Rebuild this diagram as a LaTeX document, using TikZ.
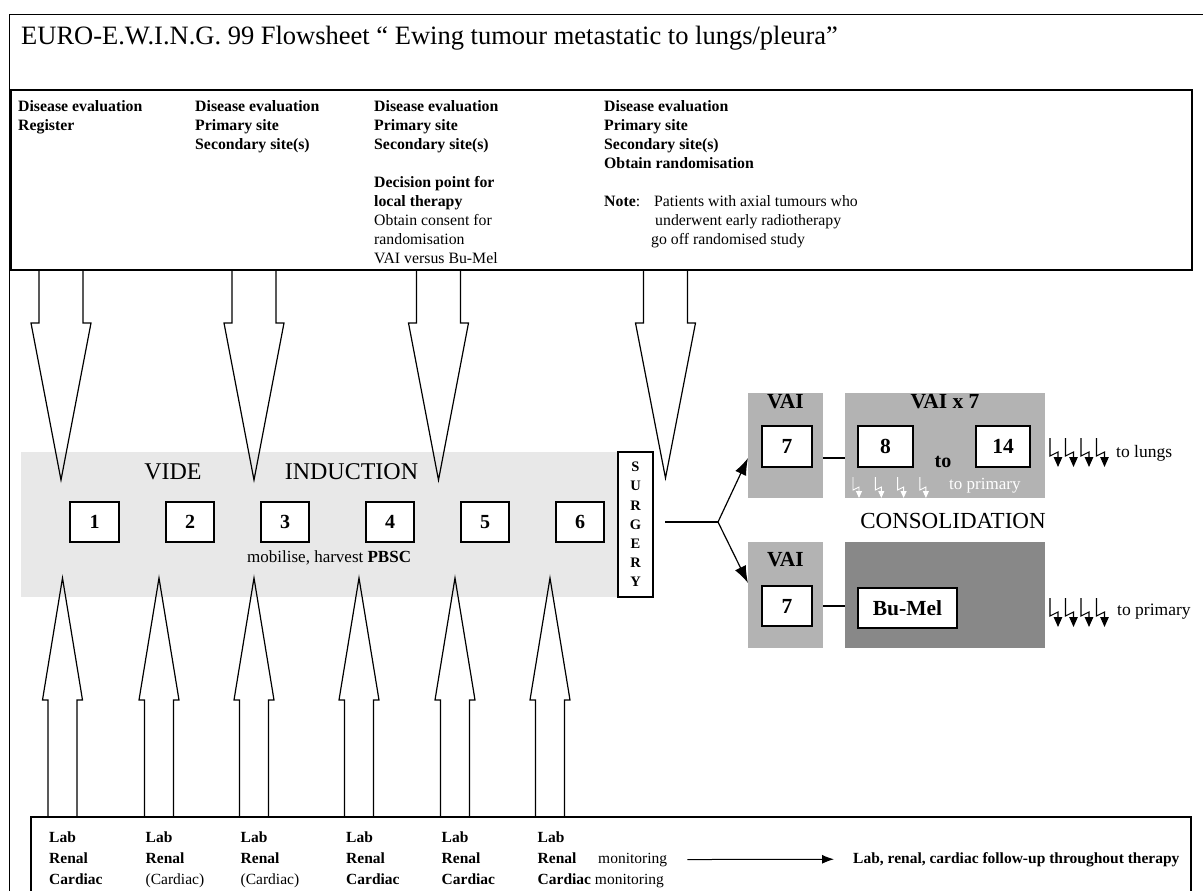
\documentclass[tikz,border=0pt]{standalone}
\usepackage{fontspec}
\setmainfont{Liberation Serif}
\usetikzlibrary{arrows.meta}
\definecolor{bandgray}{HTML}{E8E8E8}
\definecolor{cgrayA}{HTML}{B3B3B3}
\definecolor{cgrayB}{HTML}{888888}
\tikzset{
  outerline/.style={line width=0.8pt},
  thickbox/.style={line width=2pt},
  numbox/.style={draw, line width=1.8pt, fill=white, inner sep=0pt, minimum height=40pt, font=\fontsize{20}{24}\selectfont\bfseries},
  consbox/.style={draw, line width=1.8pt, fill=white, inner sep=0pt, font=\fontsize{21.5}{24}\selectfont\bfseries},
  blockarrow/.style={line width=1.2pt, line join=miter},
  coltext/.style={anchor=base west, inner sep=0pt, align=left, font=\fontsize{15.8}{19}\selectfont},
  bottext/.style={anchor=base west, inner sep=0pt, align=left, font=\fontsize{15.5}{21}\selectfont},
  bigbold/.style={inner sep=0pt, font=\fontsize{21.5}{24}\selectfont\bfseries},
  phase/.style={inner sep=0pt, font=\fontsize{24}{28}\selectfont},
  sidelabel/.style={anchor=west, inner sep=0pt, font=\fontsize{17.5}{20}\selectfont},
  bolt/.pic={\draw[line width=1.1pt, -{Triangle[length=10pt,width=8.5pt]}] (0,0) -- (0,18) -- (8,14) -- (8,29);},
  smallbolt/.pic={\draw[line width=0.9pt, -{Triangle[length=7pt,width=6pt]}] (0,0) -- (0,13) -- (6,10) -- (6,21);},
}
\begin{document}
\begin{tikzpicture}[x=1pt,y=-1pt]
\useasboundingbox (0,0) rectangle (1203,891);
\clip (0,0) rectangle (1203,891);
% outer frame and title
\draw[outerline] (9.5,900) -- (9.5,14) -- (1215,14);
\node[anchor=west, inner sep=0pt, font=\fontsize{26.5}{30}\selectfont] (title) at (21,38) {EURO-E.W.I.N.G. 99 Flowsheet “ Ewing tumour metastatic to lungs/pleura”};
% top box (multi-line nodes are anchored at the baseline of their last line)
\node[draw, thickbox, minimum width=1181pt, minimum height=180pt, inner sep=0pt, anchor=north west] (topbox) at (10,89) {};
\node[coltext] (col1) at (18,130) {\textbf{Disease evaluation}\\\textbf{Register}};
\node[coltext] (col2) at (195,149) {\textbf{Disease evaluation}\\\textbf{Primary site}\\\textbf{Secondary site(s)}};
\node[coltext] (col3) at (374,263) {\textbf{Disease evaluation}\\\textbf{Primary site}\\\textbf{Secondary site(s)}\\[19pt]\textbf{Decision point for}\\\textbf{local therapy}\\Obtain consent for\\randomisation\\VAI versus Bu-Mel};
\node[coltext] (col4) at (604,244) {\textbf{Disease evaluation}\\\textbf{Primary site}\\\textbf{Secondary site(s)}\\\textbf{Obtain randomisation}\\[19pt]\makebox[50pt][l]{\textbf{Note}:}Patients with axial tumours who\\\hspace*{51pt}underwent early radiotherapy\\\hspace*{47pt}go off randomised study};
% induction band
\node[fill=bandgray, inner sep=0pt, minimum width=596pt, minimum height=145pt, anchor=north west] (band) at (21,452) {};
\node[phase] (vide) at (173,472) {VIDE};
\node[phase] (induction) at (351.5,472) {INDUCTION};
\node[numbox, minimum width=49pt] (b1) at (94.5,522) {1};
\node[numbox, minimum width=48pt] (b2) at (190,522) {2};
\node[numbox, minimum width=48pt] (b3) at (285,522) {3};
\node[numbox, minimum width=48pt] (b4) at (390,522) {4};
\node[numbox, minimum width=48pt] (b5) at (485,522) {5};
\node[numbox, minimum width=48pt] (b6) at (580,522) {6};
\node[anchor=west, inner sep=0pt, font=\fontsize{17}{20}\selectfont] (mob) at (247,558) {mobilise, harvest \textbf{PBSC}};
\node[draw, line width=1.8pt, fill=white, minimum width=35pt, minimum height=145pt, inner sep=0pt, align=center, font=\fontsize{14.5}{19.2}\selectfont\bfseries] (surgery) at (635.5,524.5) {S\\U\\R\\G\\E\\R\\Y};
% top block arrows
\foreach \c/\t in {61/480,254/480,438.5/480,665.5/478}
  \draw[blockarrow] ({\c-22},269) -- ({\c-22},323) -- ({\c-30},323) -- (\c,\t) -- ({\c+30},323) -- ({\c+22},323) -- ({\c+22},269);
% bottom block arrows
\foreach \c in {62.5,159,254,359,455,550}
  \draw[blockarrow] ({\c-14.5},817) -- ({\c-14.5},700) -- ({\c-20},700) -- (\c,578) -- ({\c+20},700) -- ({\c+14.5},700) -- ({\c+14.5},817);
% consolidation
\node[fill=cgrayA, inner sep=0pt, minimum width=75pt, minimum height=105pt] (vaiU) at (785.5,445.5) {};
\node[fill=cgrayA, inner sep=0pt, minimum width=200pt, minimum height=105pt] (vaix) at (945,445.5) {};
\node[fill=cgrayA, inner sep=0pt, minimum width=75pt, minimum height=106pt] (vaiL) at (785.5,595) {};
\node[fill=cgrayB, inner sep=0pt, minimum width=200pt, minimum height=106pt] (bumelbg) at (945,595) {};
\node[bigbold] (vaiUt) at (785.5,402) {VAI};
\node[bigbold] (vaixt) at (945,402) {VAI x 7};
\node[bigbold] (vaiLt) at (785.5,560) {VAI};
\node[consbox, minimum width=50pt, minimum height=41pt] (u7) at (787,446.5) {7};
\node[consbox, minimum width=55pt, minimum height=41pt] (b8) at (885.5,446.5) {8};
\node[consbox, minimum width=54pt, minimum height=41pt] (b14) at (1003,446.5) {14};
\node[consbox, minimum width=50pt, minimum height=40pt] (l7) at (787,606) {7};
\node[consbox, minimum width=99pt, minimum height=40pt] (bumel) at (907.5,608) {Bu-Mel};
\node[inner sep=0pt, font=\fontsize{20}{24}\selectfont\bfseries] (to) at (943,462) {to};
\draw[line width=1.2pt] ([yshift=-12.5pt]vaiU.east) -- ([yshift=-12.5pt]vaix.west);
\draw[line width=1.2pt] (vaiL.east |- l7.center) -- (bumelbg.west |- l7.center);
\node[phase, font=\fontsize{23}{26}\selectfont] (consol) at (953,521) {CONSOLIDATION};
% fork
\coordinate (fstart) at (665,522);
\coordinate (fork) at (718,522);
\coordinate (tipU) at (748,458);
\coordinate (tipL) at (748,583);
\draw[line width=1.2pt] (fstart) -- (fork);
\draw[line width=1.2pt, -{Latex[length=17pt,width=12pt]}] (fork) -- (tipU);
\draw[line width=1.2pt, -{Latex[length=17pt,width=12pt]}] (fork) -- (tipL);
% radiotherapy symbols
\foreach \i in {0,...,3} \pic at ({1050+15.5*\i},438) {bolt};
\foreach \i in {0,...,3} \pic at ({1050+15.5*\i},598) {bolt};
\foreach \i in {0,...,3} \pic[white] at ({853+22.3*\i},477) {smallbolt};
\node[sidelabel] (tolungs) at (1116,453) {to lungs};
\node[sidelabel] (toprimL) at (1117,612) {to primary};
\node[sidelabel, text=white, font=\fontsize{17}{20}\selectfont] (toprimU) at (949,486) {to primary};
% bottom box
\draw[thickbox] (31,900) -- (31,817) -- (1191,817) -- (1191,900);
\node[bottext] (c1) at (49,884) {\textbf{Lab}\\\textbf{Renal}\\\textbf{Cardiac}};
\node[bottext] (c2) at (145.5,884) {\textbf{Lab}\\\textbf{Renal}\\(Cardiac)};
\node[bottext] (c3) at (240.5,884) {\textbf{Lab}\\\textbf{Renal}\\(Cardiac)};
\node[bottext] (c4) at (346,884) {\textbf{Lab}\\\textbf{Renal}\\\textbf{Cardiac}};
\node[bottext] (c5) at (441.5,884) {\textbf{Lab}\\\textbf{Renal}\\\textbf{Cardiac}};
\node[bottext] (c6) at (537.5,884) {\textbf{Lab}\\\textbf{Renal}\\\textbf{Cardiac} monitoring};
\node[bottext] (mon) at (598,863) {monitoring};
\node[bottext] (fu) at (853,863) {\textbf{Lab, renal, cardiac follow-up throughout therapy}};
\draw[line width=1pt, -{Latex[length=12pt,width=9pt]}] ([xshift=20pt]mon.east) -- ([xshift=-19pt]fu.west);
\end{tikzpicture}
\end{document}
